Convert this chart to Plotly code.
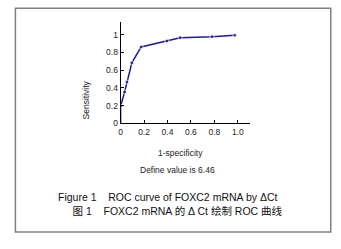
import plotly.graph_objects as go

fpr = [0, 0, 0.034, 0.054, 0.096, 0.175, 0.395, 0.508, 0.78, 0.975]
tpr = [0, 0.195, 0.354, 0.467, 0.683, 0.863, 0.93, 0.967, 0.978, 0.995]
x_ticks = [0, 0.2, 0.4, 0.6, 0.8, 1.0]
x_ticklabels = ["0", "0.2", "0.4", "0.6", "0.8", "1.0"]
y_ticks = [0, 0.2, 0.4, 0.6, 0.8, 1.0]
y_ticklabels = ["0", "0.2", "0.4", "0.6", "0.8", "1"]
caption_en = "Figure 1\u00a0\u00a0\u00a0 ROC curve of FOXC2 mRNA by \u0394Ct"
caption_zh = "图 1\u00a0\u00a0\u00a0 FOXC2 mRNA 的 \u0394 Ct 绘制 ROC 曲线"

W, H = 341, 249
FONT = "Liberation Sans, Arial, sans-serif"
CJK = "Liberation Sans, Noto Sans CJK SC, sans-serif"
BLUE = "#1c1c8c"

def px(x):
    return x / W

def py(y):
    return 1 - y / H

fig = go.Figure()
fig.add_trace(go.Scatter(
    x=fpr, y=tpr, mode="lines+markers",
    line=dict(color=BLUE, width=1.5),
    marker=dict(color=BLUE, size=[0] + [4] * (len(fpr) - 1)),
    hoverinfo="skip", showlegend=False,
))

fig.update_layout(
    width=W, height=H,
    margin=dict(l=0, r=0, t=0, b=0),
    paper_bgcolor="white", plot_bgcolor="white",
    font=dict(family=FONT, size=8.5, color="#222"),
    xaxis=dict(
        domain=[px(119.3), px(249)], range=[0, 1.1],
        tickvals=x_ticks, ticktext=x_ticklabels,
        showline=True, linecolor="black", linewidth=1,
        ticks="inside", ticklen=3, tickcolor="black", tickwidth=1,
        showgrid=False, zeroline=False, fixedrange=True,
        tickfont=dict(family=FONT, size=8.5, color="#222"),
    ),
    yaxis=dict(
        domain=[py(126), py(22.8)], range=[0, 1.14],
        tickvals=y_ticks, ticktext=y_ticklabels,
        showline=True, linecolor="black", linewidth=1,
        ticks="inside", ticklen=3, tickcolor="black", tickwidth=1,
        showgrid=False, zeroline=False, fixedrange=True,
        tickfont=dict(family=FONT, size=8.5, color="#222"),
    ),
    shapes=[dict(
        type="rect", xref="paper", yref="paper",
        x0=px(13.5), x1=px(330.7), y0=py(236.7), y1=py(8.3),
        line=dict(color="#808080", width=1.5),
    )],
    annotations=[
        dict(text="Sensitivity", x=px(77), y=py(80), xref="paper", yref="paper",
             textangle=-90, showarrow=False, font=dict(size=8.5)),
        dict(text="1-specificity", x=px(180), y=py(156), xref="paper", yref="paper",
             showarrow=False, font=dict(size=8.5)),
        dict(text="Define value is 6.46", x=px(177), y=py(181), xref="paper", yref="paper",
             showarrow=False, font=dict(size=8.5)),
        dict(text=caption_en + "<br>" + "\u00a0" * 5 + caption_zh,
             x=px(54), y=py(208.5), xref="paper", yref="paper",
             xanchor="left", yanchor="middle", align="left",
             showarrow=False, font=dict(family=CJK, size=10.5, color="#111")),
    ],
)

fig.write_html(
    "out.html",
    config={"displayModeBar": False},
    post_script="document.body.style.margin='0';document.body.style.overflow='hidden';",
)
